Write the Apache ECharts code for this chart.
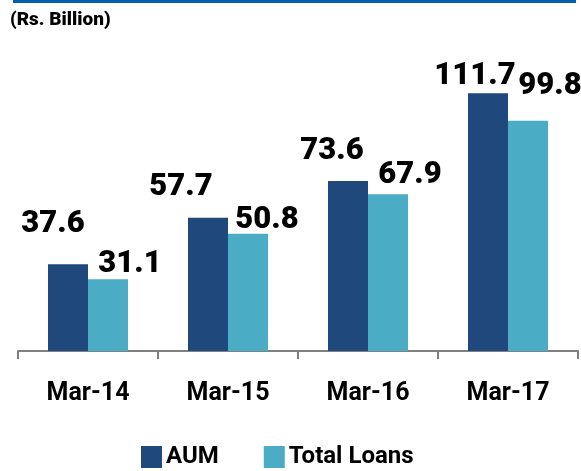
<!DOCTYPE html>
<html>
<head>
<meta charset="utf-8">
<script src="https://cdn.jsdelivr.net/npm/echarts@6/dist/echarts.min.js"></script>
<style>
  html, body { margin: 0; padding: 0; background: #fff; }
  #chart { width: 581px; height: 471px; }
</style>
</head>
<body>
<div id="chart"></div>
<script>
const categories = ['Mar-14', 'Mar-15', 'Mar-16', 'Mar-17'];
const aum = [37.6, 57.7, 73.6, 111.7];
const totalLoans = [31.1, 50.8, 67.9, 99.8];

// label nudges so the numbers sit where the original put them
const aumLabelShift = [[-15, -24], [-27, -15], [-16, -14], [-13, -1]];
const loansLabelShift = [[22, 1], [19, 2], [22, -4], [22, -19]];

const labelFont = {
    fontFamily: 'Roboto',
    fontWeight: 900,
    fontSize: 31,
    color: '#000'
};

function withLabels(values, shifts) {
    return values.map(function (v, i) {
        return { value: v, label: { offset: shifts[i] } };
    });
}

const chart = echarts.init(document.getElementById('chart'), null, { renderer: 'canvas' });

const option = {
    animation: false,
    title: {
        text: '(Rs. Billion)',
        left: 5,
        top: 6,
        textStyle: { fontFamily: 'Roboto', fontWeight: 900, fontSize: 19, color: '#000' }
    },
    graphic: [{
        type: 'rect',
        shape: { x: 13, y: 0, width: 563, height: 3 },
        style: { fill: '#0060ae' }
    }],
    legend: {
        left: 141,
        top: 445,
        padding: 0,
        itemWidth: 21,
        itemHeight: 22,
        itemGap: 45,
        icon: 'rect',
        textStyle: { fontFamily: 'Roboto', fontWeight: 'bold', fontSize: 24, color: '#000', padding: [0, 0, 0, -1] },
        data: ['AUM', 'Total Loans']
    },
    grid: { left: 18, right: 3, top: 74, bottom: 120 },
    xAxis: {
        type: 'category',
        data: categories,
        axisLine: { lineStyle: { color: '#808080', width: 2 } },
        axisTick: { show: true, length: 8, lineStyle: { color: '#808080', width: 2 } },
        axisLabel: {
            margin: 30,
            fontFamily: 'Roboto',
            fontWeight: 'bold',
            fontSize: 25,
            color: '#000'
        }
    },
    yAxis: {
        type: 'value',
        min: 0,
        max: 120,
        show: false,
        splitLine: { show: false }
    },
    series: [
        {
            name: 'AUM',
            type: 'bar',
            barWidth: 40,
            barGap: 0,
            itemStyle: { color: '#1f497d' },
            label: Object.assign({ show: true, position: 'top', distance: 0 }, labelFont),
            data: withLabels(aum, aumLabelShift)
        },
        {
            name: 'Total Loans',
            type: 'bar',
            barWidth: 40,
            itemStyle: { color: '#4bacc6' },
            label: Object.assign({ show: true, position: 'top', distance: 0 }, labelFont),
            data: withLabels(totalLoans, loansLabelShift)
        }
    ]
};

chart.setOption(option);
</script>
</body>
</html>
